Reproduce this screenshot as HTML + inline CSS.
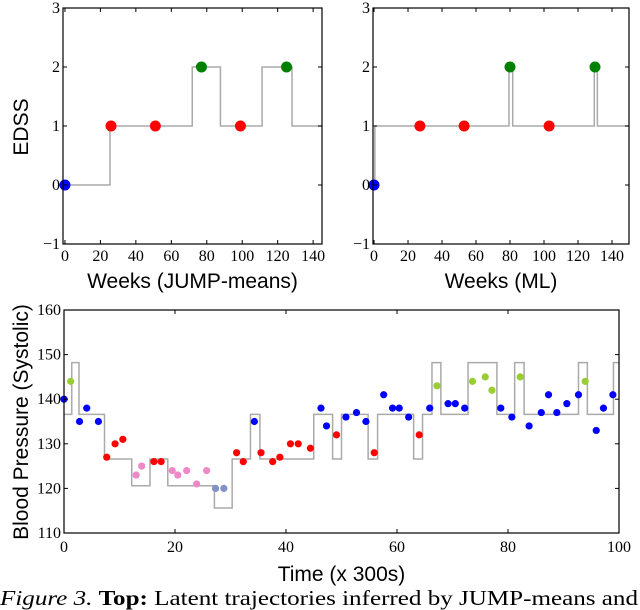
<!DOCTYPE html>
<html><head><meta charset="utf-8"><style>
html,body{margin:0;padding:0;background:#fff;}
svg{display:block;}
.tick{font-family:"Liberation Serif",serif;font-size:16px;fill:#000;}
.title{font-family:"Liberation Sans",sans-serif;font-size:21px;fill:#000;}
</style></head><body>
<svg id="fig" width="640" height="610" viewBox="0 0 640 610" xmlns="http://www.w3.org/2000/svg">
<text x="0" y="605" textLength="638" lengthAdjust="spacingAndGlyphs" style="font-family:'Liberation Serif',serif;font-size:21px"><tspan font-style="italic">Figure 3.</tspan> <tspan font-weight="bold">Top:</tspan>  Latent trajectories inferred by JUMP-means and</text>
</svg>
<script>
// ---- EDSS data ----
const edssJumpX = [0, 26, 51, 77, 99, 125];
const edssJumpY = [0, 1, 1, 2, 1, 2];
const edssJumpColors = ['#0000ff','#ff0000','#ff0000','#008000','#ff0000','#008000'];
const jumpStepX = [0, 25.4, 71.8, 87.7, 111.2, 128.1, 145];
const jumpStepY = [0, 1, 2, 1, 2, 1];
const edssMlX = [0, 27, 53, 80, 103, 130];
const edssMlY = [0, 1, 1, 2, 1, 2];
const mlStepX = [0, 0.5, 79.4, 81.6, 129.6, 131.4, 150];
const mlStepY = [0, 1, 2, 1, 2, 1];
const edssXTicks = [0,20,40,60,80,100,120,140];
const edssYTicks = [-1,0,1,2,3];
// ---- Blood pressure data ----
const bpX = [0,1.2,2.8,4.1,6.2,7.7,9.2,10.6,13,14,16.2,17.5,19.5,20.5,22.1,23.9,25.7,27.3,28.8,31.1,32.3,34.3,35.5,37.6,38.9,40.8,42.2,44.4,46.3,47.3,49.1,50.8,52.7,54.4,55.9,57.6,59.2,60.4,62.1,64,65.9,67.2,69.2,70.5,72.2,73.6,75.9,77.1,78.7,80.7,82.2,83.8,86,87.3,88.8,90.6,92.7,93.9,95.9,97.2,98.9];
const bpY = [140,144,135,138,135,127,130,131,123,125,126,126,124,123,124,121,124,120,120,128,126,135,128,126,127,130,130,129,138,134,132,136,137,135,128,141,138,138,136,132,138,143,139,139,138,144,145,142,138,136,145,134,137,141,137,139,141,144,133,138,141];
const bpCluster = ['b','g','b','b','b','r','r','r','p','p','r','r','p','p','p','p','p','s','s','r','r','b','r','r','r','r','r','r','b','b','r','b','b','b','r','b','b','b','b','r','b','g','b','b','b','g','g','g','b','b','g','b','b','b','b','b','b','g','b','b','b'];
const bpStepX = [0,1.4,2.7,7.3,12.2,15.5,18.7,27.1,30.3,33.6,35.3,45,48.4,50,54.8,56.5,63,64.6,66.3,67.9,72.8,78,81.2,82.9,92.7,94.3,99,100];
const bpStepY = [136.6,148.2,136.6,126.6,120.6,126.6,120.6,115.6,126.6,136.6,126.6,136.6,126.6,136.6,126.6,136.6,126.6,136.6,148.2,136.6,148.2,136.6,148.2,136.6,148.2,136.6,148.2];
const bpXTicks = [0,20,40,60,80,100];
const bpYTicks = [110,120,130,140,150,160];
const clusterColor = {b:'#0000ff', r:'#ff0000', g:'#9acd32', p:'#ee88c8', s:'#7f93c8'};

const NS='http://www.w3.org/2000/svg';
const svg=document.getElementById('fig');
function el(tag, attrs, parent){const e=document.createElementNS(NS,tag);for(const k in attrs)e.setAttribute(k,attrs[k]);(parent||svg).appendChild(e);return e;}
function scale(d0,d1,p0,p1){return v=>p0+(v-d0)/(d1-d0)*(p1-p0);}

function panel(cfg){
  const g=el('g',{});
  
  
  const sx=scale(cfg.xd[0],cfg.xd[1],cfg.L,cfg.R), sy=scale(cfg.yd[0],cfg.yd[1],cfg.B,cfg.T);
  let d='M'+sx(cfg.stepX[0])+','+sy(cfg.stepY[0]);
  for(let i=0;i<cfg.stepY.length;i++){
    d+=' L'+sx(cfg.stepX[i+1])+','+sy(cfg.stepY[i]);
    if(i+1<cfg.stepY.length) d+=' L'+sx(cfg.stepX[i+1])+','+sy(cfg.stepY[i+1]);
  }
  const p=el('path',{d:d,fill:'none',stroke:'#aaaaaa','stroke-width':1.5},g);
  
  
  for(let i=0;i<cfg.px.length;i++){
    const c=el('circle',{cx:sx(cfg.px[i]),cy:sy(cfg.py[i]),r:cfg.r,fill:cfg.colors[i]},g);
    
    
  }
  const f=el('rect',{x:cfg.L,y:cfg.T,width:cfg.R-cfg.L,height:cfg.B-cfg.T,fill:'none',stroke:'#000','stroke-width':1.2},g);
  
  
  cfg.xt.forEach(v=>{
    const x=sx(v);
    el('line',{x1:x,x2:x,y1:cfg.B,y2:cfg.B-4,stroke:'#000'},g);
    el('line',{x1:x,x2:x,y1:cfg.T,y2:cfg.T+4,stroke:'#000'},g);
    const t=el('text',{x:x,y:cfg.B+cfg.xlOff,'text-anchor':'middle',class:'tick'},g);
    t.textContent=v;
    
    
  });
  cfg.yt.forEach(v=>{
    const y=sy(v);
    el('line',{x1:cfg.L,x2:cfg.L+4,y1:y,y2:y,stroke:'#000'},g);
    el('line',{x1:cfg.R,x2:cfg.R-4,y1:y,y2:y,stroke:'#000'},g);
    const t=el('text',{x:cfg.L-3,y:y+5,'text-anchor':'end',class:'tick'},g);
    t.textContent=(v<0?'\u2212'+(-v):v);
    
    
  });
  const xt=el('text',{x:(cfg.L+cfg.R)/2-cfg.xoff,y:cfg.xty,'text-anchor':'middle',class:'title'},g);
  xt.textContent=cfg.xtitle;
  
  
  if(cfg.ytitle){
    const yt=el('text',{x:0,y:0,'text-anchor':'middle',class:'title',transform:'translate('+cfg.ytx+','+cfg.yty+') rotate(-90)'},g);
    yt.textContent=cfg.ytitle;
    
    
  }
}
panel({name:'edss-jump-means-chart',L:63,R:322,T:8,B:244,xd:[-1.1,145],yd:[-1,3],stepX:jumpStepX,stepY:jumpStepY,px:edssJumpX,py:edssJumpY,colors:edssJumpColors,r:5.5,xt:edssXTicks,yt:edssYTicks,xlOff:17,xtitle:'Weeks (JUMP-means)',xoff:0,xty:288,ytitle:'EDSS',ytx:28,yty:127});
panel({name:'edss-ml-chart',L:373,R:629,T:8,B:244,xd:[-0.6,150],yd:[-1,3],stepX:mlStepX,stepY:mlStepY,px:edssMlX,py:edssMlY,colors:edssJumpColors,r:5.5,xt:edssXTicks,yt:edssYTicks,xlOff:17,xtitle:'Weeks (ML)',xoff:0,xty:288});
panel({name:'blood-pressure-chart',L:64,R:619,T:310,B:533,xd:[0,100],yd:[110,160],stepX:bpStepX,stepY:bpStepY,px:bpX,py:bpY,colors:bpCluster.map(c=>clusterColor[c]),r:3.6,xt:bpXTicks,yt:bpYTicks,xlOff:19,xtitle:'Time (x 300s)',xoff:0,xty:581,ytitle:'Blood Pressure (Systolic)',ytx:28,yty:422});
</script>
</body></html>
